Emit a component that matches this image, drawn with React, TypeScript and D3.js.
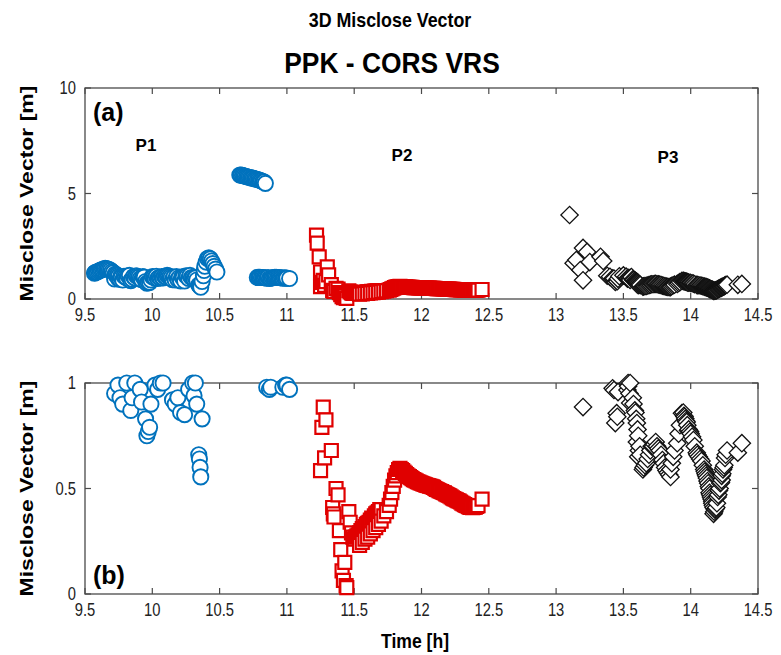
import * as d3 from "d3";

const W = 781;
const H = 655;
const LEFT = 85;
const RIGHT = 758;
const TOP_PANEL = { y0: 299, y1: 88, max: 10, ticks: [0, 5, 10], labels: ["0", "5", "10"] };
const BOT_PANEL = { y0: 594, y1: 383, max: 1, ticks: [0, 0.5, 1], labels: ["0", "0.5", "1"] };
const X_TICKS = [9.5, 10, 10.5, 11, 11.5, 12, 12.5, 13, 13.5, 14, 14.5];
const X_LABELS = ["9.5", "10", "10.5", "11", "11.5", "12", "12.5", "13", "13.5", "14", "14.5"];

const FONT = "Liberation Sans, Arial, sans-serif";
const BLUE = "#0072BD";
const RED = "#e00000";

// P1 - blue circles [time h, misclose m]
const P1 = [
  [9.57, 1.22], [9.575, 1.25], [9.58, 1.27], [9.59, 1.28], [9.6, 1.32], [9.61, 1.35], [9.62, 1.38],
  [9.63, 1.4], [9.64, 1.43], [9.65, 1.45], [9.66, 1.44], [9.67, 1.42], [9.68, 1.4], [9.69, 1.36],
  [9.7, 1.3], [9.71, 1.25], [9.72, 0.95], [9.725, 1.18], [9.73, 1.15], [9.74, 1.12], [9.745, 0.99],
  [9.75, 1.08], [9.76, 0.93], [9.765, 1.06], [9.77, 1.02], [9.78, 0.9], [9.79, 1.08], [9.8, 1.05],
  [9.81, 1.0], [9.82, 1.1], [9.83, 1.12], [9.84, 0.87], [9.85, 0.93], [9.86, 1.06], [9.87, 1.0],
  [9.88, 1.1], [9.89, 1.08], [9.9, 1.04], [9.91, 0.97], [9.92, 0.91], [9.93, 1.06], [9.94, 1.04],
  [9.95, 0.83], [9.96, 0.75], [9.97, 0.77], [9.98, 0.79], [9.99, 0.9], [10.0, 1.06], [10.01, 1.04],
  [10.02, 0.99], [10.03, 1.08], [10.04, 0.97], [10.05, 1.03], [10.06, 1.0], [10.07, 1.06], [10.08, 1.0],
  [10.09, 1.08], [10.1, 1.05], [10.11, 1.12], [10.12, 1.1], [10.13, 1.06], [10.14, 1.02], [10.15, 0.92],
  [10.16, 1.04], [10.17, 0.9], [10.18, 1.06], [10.19, 0.93], [10.2, 1.02], [10.21, 0.86], [10.22, 1.05],
  [10.23, 1.04], [10.24, 0.85], [10.25, 1.1], [10.26, 1.08], [10.27, 0.97], [10.28, 1.12], [10.29, 1.02],
  [10.3, 1.0], [10.31, 0.94], [10.32, 1.0], [10.33, 0.9], [10.345, 0.66], [10.35, 0.64], [10.355, 0.6],
  [10.36, 0.555], [10.37, 0.83], [10.38, 1.1], [10.385, 1.35], [10.39, 1.55], [10.4, 1.75], [10.41, 1.92],
  [10.42, 1.95], [10.43, 1.9], [10.44, 1.8], [10.45, 1.68], [10.46, 1.55], [10.47, 1.42], [10.48, 1.28],
  [10.65, 5.88], [10.66, 5.87], [10.67, 5.86], [10.68, 5.84], [10.69, 5.82], [10.7, 5.8], [10.71, 5.78],
  [10.72, 5.77], [10.73, 5.75], [10.74, 5.73], [10.75, 5.72], [10.76, 5.7], [10.77, 5.68], [10.78, 5.66],
  [10.79, 5.65], [10.8, 5.62], [10.81, 5.6], [10.82, 5.57], [10.83, 5.55], [10.84, 5.48],
  [10.78, 1.02], [10.79, 1.03], [10.8, 1.03], [10.81, 1.02], [10.82, 1.02], [10.83, 1.01], [10.84, 1.01],
  [10.85, 0.98], [10.86, 1.02], [10.87, 0.97], [10.88, 0.98], [10.89, 1.01], [10.9, 1.02], [10.91, 1.03],
  [10.92, 1.03], [10.93, 1.02], [10.94, 1.02], [10.95, 1.01], [10.96, 1.01], [10.97, 0.98], [10.98, 1.01],
  [10.99, 0.99], [11.0, 0.99], [11.02, 0.97],
];

// P2 - red squares
const P2 = [
  [11.22, 3.03], [11.225, 2.65], [11.24, 2.0], [11.25, 1.28], [11.25, 0.585], [11.26, 0.79], [11.27, 0.886],
  [11.28, 0.645], [11.29, 0.825], [11.3, 1.52], [11.31, 1.14], [11.33, 0.68], [11.34, 0.41], [11.345, 0.38],
  [11.35, 0.365], [11.365, 0.5], [11.38, 0.47], [11.39, 0.3], [11.4, 0.21], [11.41, 0.11], [11.42, 0.065],
  [11.43, 0.15], [11.44, 0.04], [11.445, 0.03], [11.46, 0.39], [11.47, 0.34], [11.48, 0.29], [11.49, 0.27],
  [11.5, 0.26], [11.51, 0.27], [11.52, 0.275], [11.53, 0.28], [11.54, 0.29], [11.55, 0.3], [11.56, 0.31],
  [11.57, 0.305], [11.58, 0.32], [11.59, 0.33], [11.6, 0.335], [11.61, 0.34], [11.62, 0.35], [11.63, 0.36],
  [11.64, 0.355], [11.65, 0.37], [11.66, 0.38], [11.67, 0.385], [11.68, 0.39], [11.69, 0.4], [11.7, 0.4],
  [11.54, 0.23], [11.56, 0.245], [11.58, 0.26], [11.6, 0.27], [11.62, 0.285], [11.64, 0.3], [11.66, 0.315],
  [11.68, 0.33], [11.7, 0.345], [11.72, 0.37], [11.74, 0.39], [11.76, 0.42], [11.77, 0.45], [11.78, 0.48],
  [11.79, 0.51], [11.8, 0.54], [11.81, 0.56], [11.82, 0.575],
  [11.83, 0.59], [11.84, 0.595], [11.85, 0.59], [11.86, 0.585], [11.87, 0.578], [11.88, 0.572], [11.89, 0.566],
  [11.9, 0.56], [11.91, 0.556], [11.92, 0.552], [11.93, 0.547], [11.94, 0.542], [11.95, 0.54], [11.96, 0.536],
  [11.97, 0.532], [11.98, 0.53], [11.99, 0.527], [12.0, 0.525], [12.01, 0.522], [12.02, 0.52], [12.03, 0.517],
  [12.04, 0.515], [12.05, 0.514], [12.06, 0.511], [12.07, 0.51], [12.08, 0.508], [12.09, 0.505], [12.1, 0.5],
  [12.11, 0.496], [12.12, 0.494], [12.13, 0.49], [12.14, 0.487], [12.15, 0.485], [12.16, 0.481], [12.17, 0.479],
  [12.18, 0.475], [12.19, 0.471], [12.2, 0.468], [12.21, 0.465], [12.22, 0.46], [12.23, 0.456], [12.24, 0.452],
  [12.25, 0.449], [12.26, 0.446], [12.27, 0.443], [12.28, 0.44], [12.29, 0.436], [12.3, 0.431], [12.31, 0.427],
  [12.32, 0.424], [12.33, 0.42], [12.34, 0.417], [12.35, 0.414], [12.36, 0.411], [12.37, 0.41], [12.38, 0.409],
  [12.39, 0.41], [12.4, 0.412], [12.41, 0.415], [12.42, 0.419], [12.45, 0.45],
];

// P3 - black diamonds
const P3 = [
  [13.1, 3.98], [13.13, 1.7], [13.15, 1.85], [13.18, 1.37], [13.2, 0.886], [13.2, 2.42], [13.23, 2.23],
  [13.25, 1.75], [13.33, 2.0], [13.35, 1.8], [13.38, 1.1], [13.4, 1.05], [13.42, 0.975], [13.43, 0.967],
  [13.44, 0.81], [13.45, 0.857], [13.455, 0.84], [13.46, 0.957], [13.47, 1.08], [13.5, 1.12], [13.52, 1.06],
  [13.53, 0.967], [13.535, 1.0], [13.535, 0.985], [13.545, 0.95], [13.55, 1.0], [13.55, 0.905], [13.56, 1.04],
  [13.57, 0.93], [13.575, 0.9], [13.585, 0.87], [13.59, 0.86], [13.595, 0.83], [13.6, 0.81], [13.6, 0.72],
  [13.605, 0.78], [13.61, 0.75], [13.61, 0.65], [13.615, 0.68], [13.62, 0.7], [13.625, 0.66], [13.645, 0.59],
  [13.65, 0.6], [13.66, 0.61], [13.67, 0.62], [13.68, 0.64], [13.69, 0.66], [13.7, 0.68], [13.71, 0.7],
  [13.72, 0.7], [13.73, 0.71], [13.74, 0.72], [13.75, 0.7], [13.76, 0.69], [13.77, 0.68], [13.78, 0.66],
  [13.79, 0.635], [13.8, 0.62], [13.81, 0.6], [13.82, 0.585], [13.83, 0.575], [13.84, 0.565], [13.85, 0.555],
  [13.85, 0.59], [13.86, 0.62], [13.87, 0.65], [13.88, 0.68], [13.9, 0.715], [13.91, 0.76], [13.92, 0.8],
  [13.935, 0.857], [13.945, 0.86], [13.95, 0.845], [13.955, 0.84], [13.96, 0.83], [13.965, 0.82], [13.97, 0.815],
  [13.975, 0.8], [13.98, 0.775], [13.985, 0.78], [13.995, 0.77], [14.0, 0.76], [14.01, 0.745], [14.02, 0.73],
  [14.03, 0.7], [14.045, 0.67], [14.05, 0.66], [14.06, 0.65], [14.07, 0.64], [14.08, 0.63], [14.09, 0.61],
  [14.1, 0.59], [14.105, 0.58], [14.11, 0.57], [14.115, 0.56], [14.12, 0.55], [14.125, 0.535], [14.13, 0.525],
  [14.135, 0.51], [14.14, 0.5], [14.14, 0.48], [14.145, 0.47], [14.15, 0.46], [14.155, 0.45], [14.16, 0.44],
  [14.16, 0.43], [14.165, 0.42], [14.17, 0.41], [14.17, 0.38], [14.175, 0.39], [14.18, 0.4], [14.185, 0.405],
  [14.19, 0.41], [14.195, 0.43], [14.2, 0.46], [14.205, 0.47], [14.21, 0.49], [14.215, 0.5], [14.22, 0.525],
  [14.225, 0.53], [14.23, 0.54], [14.23, 0.56], [14.235, 0.57], [14.24, 0.59], [14.245, 0.6], [14.25, 0.61],
  [14.255, 0.645], [14.26, 0.66], [14.27, 0.68], [14.35, 0.67], [14.38, 0.715],
];

const x = d3.scaleLinear().domain([9.5, 14.5]).range([LEFT, RIGHT]);
const squarePath = d3.symbol(d3.symbolSquare, 169)() || "";
const diamondPath = d3.symbol(d3.symbolSquare, 150)() || "";

function Txt({ x, y, size, bold = false, sx = 1, anchor = "middle", rotate = false, dy = "0", fill = "#000", children }) {
  const transform = `translate(${x},${y}) scale(${sx},1)` + (rotate ? " rotate(-90)" : "");
  return (
    <text
      transform={transform}
      textAnchor={anchor}
      dy={dy}
      fontFamily={FONT}
      fontSize={size}
      fontWeight={bold ? "bold" : "normal"}
      fill={fill}
    >
      {children}
    </text>
  );
}

function Panel({ cfg, tag, tagY }) {
  const y = d3.scaleLinear().domain([0, cfg.max]).range([cfg.y0, cfg.y1]);
  const keep = (d) => d[1] <= cfg.max * 1.005;
  const axisColor = "#4a4a4a";
  return (
    <g>
      <rect x={LEFT} y={cfg.y1} width={RIGHT - LEFT} height={cfg.y0 - cfg.y1} fill="none" stroke={axisColor} strokeWidth={1.3} />
      {X_TICKS.map((t, i) => (
        <g key={`xt-${t}`}>
          <line x1={x(t)} x2={x(t)} y1={cfg.y0} y2={cfg.y0 - 6} stroke={axisColor} strokeWidth={1.2} />
          <line x1={x(t)} x2={x(t)} y1={cfg.y1} y2={cfg.y1 + 6} stroke={axisColor} strokeWidth={1.2} />
          <Txt x={x(t)} y={cfg.y0 + 22} size={18} sx={0.82} fill="#222">
            {X_LABELS[i]}
          </Txt>
        </g>
      ))}
      {cfg.ticks.map((t, i) => (
        <g key={`yt-${t}`}>
          <line x1={LEFT} x2={LEFT + 6} y1={y(t)} y2={y(t)} stroke={axisColor} strokeWidth={1.2} />
          <line x1={RIGHT} x2={RIGHT - 6} y1={y(t)} y2={y(t)} stroke={axisColor} strokeWidth={1.2} />
          <Txt x={LEFT - 9} y={y(t)} size={18} sx={0.82} anchor="end" dy="0.35em" fill="#222">
            {cfg.labels[i]}
          </Txt>
        </g>
      ))}
      <Txt x={33} y={(cfg.y0 + cfg.y1) / 2} size={23} bold sx={0.82} rotate>
        Misclose Vector [m]
      </Txt>
      <Txt x={93} y={tagY} size={25} bold anchor="start">
        {tag}
      </Txt>

      {P1.filter(keep).map((d, i) => (
        <circle key={`c-${i}`} cx={x(d[0])} cy={y(d[1])} r={7.6} fill="#fff" stroke={BLUE} strokeWidth={1.9} />
      ))}
      {P2.filter(keep).map((d, i) => (
        <path key={`s-${i}`} d={squarePath} transform={`translate(${x(d[0])},${y(d[1])})`} fill="#fff" stroke={RED} strokeWidth={2.2} />
      ))}
      {P3.filter(keep).map((d, i) => (
        <path key={`d-${i}`} d={diamondPath} transform={`translate(${x(d[0])},${y(d[1])}) rotate(45)`} fill="#fff" stroke="#111" strokeWidth={1.3} />
      ))}
    </g>
  );
}

export default function App() {
  return (
    <svg width={W} height={H} viewBox={`0 0 ${W} ${H}`} style={{ position: "absolute", left: 0, top: 0, background: "#fff" }}>
      <rect width={W} height={H} fill="#fff" />
      <Txt x={390} y={27} size={21} bold sx={0.85}>
        3D Misclose Vector
      </Txt>
      <Txt x={392} y={73} size={30} bold sx={0.88}>
        PPK - CORS VRS
      </Txt>
      <Panel cfg={TOP_PANEL} tag="(a)" tagY={121} />
      <Panel cfg={BOT_PANEL} tag="(b)" tagY={584} />
      <Txt x={146} y={151} size={17} bold>P1</Txt>
      <Txt x={402} y={161} size={17} bold>P2</Txt>
      <Txt x={668} y={163} size={17} bold>P3</Txt>
      <Txt x={415} y={648} size={20} bold sx={0.88}>
        Time [h]
      </Txt>
    </svg>
  );
}
